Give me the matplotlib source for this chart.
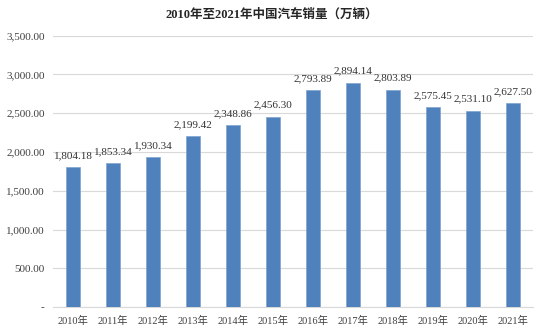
import matplotlib.pyplot as plt
import numpy as np

years = ["2010年", "2011年", "2012年", "2013年", "2014年", "2015年",
         "2016年", "2017年", "2018年", "2019年", "2020年", "2021年"]
sales = [1804.18, 1853.34, 1930.34, 2199.42, 2348.86, 2456.30,
         2793.89, 2894.14, 2803.89, 2575.45, 2531.10, 2627.50]
yticks = [0, 500, 1000, 1500, 2000, 2500, 3000, 3500]

plt.rcParams['font.family'] = ['Liberation Serif', 'Noto Sans CJK SC', 'DejaVu Sans']

fig = plt.figure(figsize=(5.43, 3.32), dpi=100)
ax = fig.add_axes([0.0976, 0.075, 0.884, 0.818])

x = np.arange(len(years))
ax.bar(x, sales, width=0.33, color='#4f81bd', edgecolor='#7fa3d1', linewidth=0.5, zorder=3)

# labels over bars
for xi, v in zip(x, sales):
    ax.annotate("{:,.2f}".format(v), (xi, v), xytext=(0, 5), textcoords='offset points',
                ha='center', va='bottom', fontsize=8, color='#333333')

ax.set_xlim(-0.5, len(years) - 0.5)
ax.set_ylim(0, 3500)
ax.set_yticks(yticks)
ax.set_yticklabels(["-" if t == 0 else "{:,.2f}".format(t) for t in yticks])
ax.set_xticks(x)
ax.set_xticklabels(years)
ax.tick_params(axis='both', length=0, colors='#404040')
ax.tick_params(axis='y', labelsize=8, pad=6)
ax.tick_params(axis='x', labelsize=7.5, pad=6)
ax.grid(axis='y', color='#d9d9d9', linewidth=0.8, zorder=0)
for s in ['top', 'right', 'left']:
    ax.spines[s].set_visible(False)
ax.spines['bottom'].set_color('#d9d9d9')

fig.text(0.5, 0.955, "2010年至2021年中国汽车销量（万辆）", ha='center', va='center',
         fontsize=9, fontweight='bold', color='#262626')

fig.savefig("out.png", dpi=100)
